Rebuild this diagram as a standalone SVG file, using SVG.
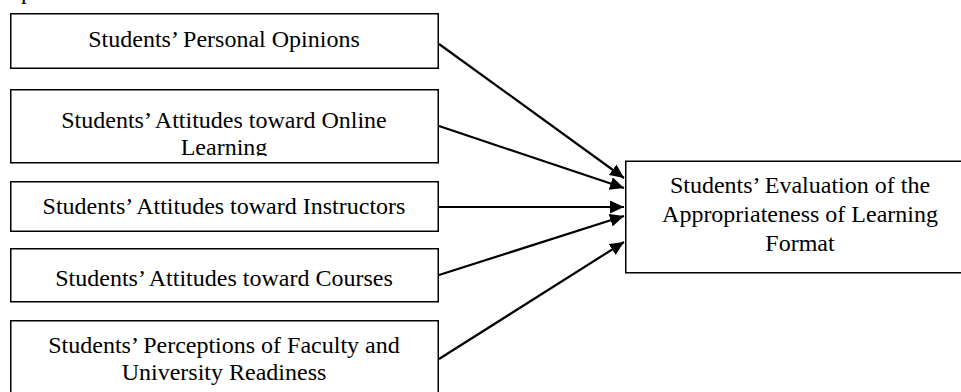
<svg xmlns="http://www.w3.org/2000/svg" width="961" height="392" viewBox="0 0 961 392">
  <style>
    .box { fill: #ffffff; stroke: #000000; stroke-width: 1.5; }
    .t { font-family: "Liberation Serif", "Times New Roman", serif; font-size: 24px; fill: #000000; text-anchor: middle; }
    .edge { stroke: #000000; stroke-width: 2.2; fill: none; marker-end: url(#arrow); }
  </style>
  <defs>
    <marker id="arrow" markerUnits="userSpaceOnUse" markerWidth="14" markerHeight="13" refX="14" refY="6.5" orient="auto">
      <path d="M0,0 L14,6.5 L0,13 Z" fill="#000000"/>
    </marker>
    <clipPath id="clip2">
      <rect x="10" y="89" width="428" height="67"/>
    </clipPath>
  </defs>
  <rect x="0" y="0" width="961" height="392" fill="#ffffff"/>

  <text class="t" x="27" y="-1">p</text>

  <g id="node-personal">
    <rect class="box" x="10.75" y="13.75" width="427.5" height="54.5"/>
    <text class="t" x="224" y="47">Students’ Personal Opinions</text>
  </g>

  <g id="node-online">
    <rect class="box" x="10.75" y="89.75" width="427.5" height="73"/>
    <g clip-path="url(#clip2)">
      <text class="t" x="224" y="128">Students’ Attitudes toward Online</text>
      <text class="t" x="224" y="155">Learning</text>
    </g>
  </g>

  <g id="node-instructors">
    <rect class="box" x="10.75" y="181.75" width="427.5" height="49.5"/>
    <text class="t" x="224" y="214">Students’ Attitudes toward Instructors</text>
  </g>

  <g id="node-courses">
    <rect class="box" x="10.75" y="248.75" width="427.5" height="53"/>
    <text class="t" x="224" y="286">Students’ Attitudes toward Courses</text>
  </g>

  <g id="node-readiness">
    <rect class="box" x="10.75" y="320.75" width="427.5" height="90"/>
    <text class="t" x="224" y="353">Students’ Perceptions of Faculty and</text>
    <text class="t" x="224" y="380">University Readiness</text>
  </g>

  <g id="node-evaluation">
    <rect class="box" x="625.75" y="161.25" width="350" height="111.5"/>
    <text class="t" x="800" y="193">Students’ Evaluation of the</text>
    <text class="t" x="800" y="222">Appropriateness of Learning</text>
    <text class="t" x="800" y="251">Format</text>
  </g>

  <g id="connectors">
    <line class="edge" x1="439" y1="44" x2="624" y2="178"/>
    <line class="edge" x1="439" y1="126" x2="624" y2="188"/>
    <line class="edge" x1="439" y1="207" x2="624" y2="207"/>
    <line class="edge" x1="439" y1="275" x2="624" y2="216"/>
    <line class="edge" x1="439" y1="359" x2="624" y2="242"/>
  </g>
</svg>
